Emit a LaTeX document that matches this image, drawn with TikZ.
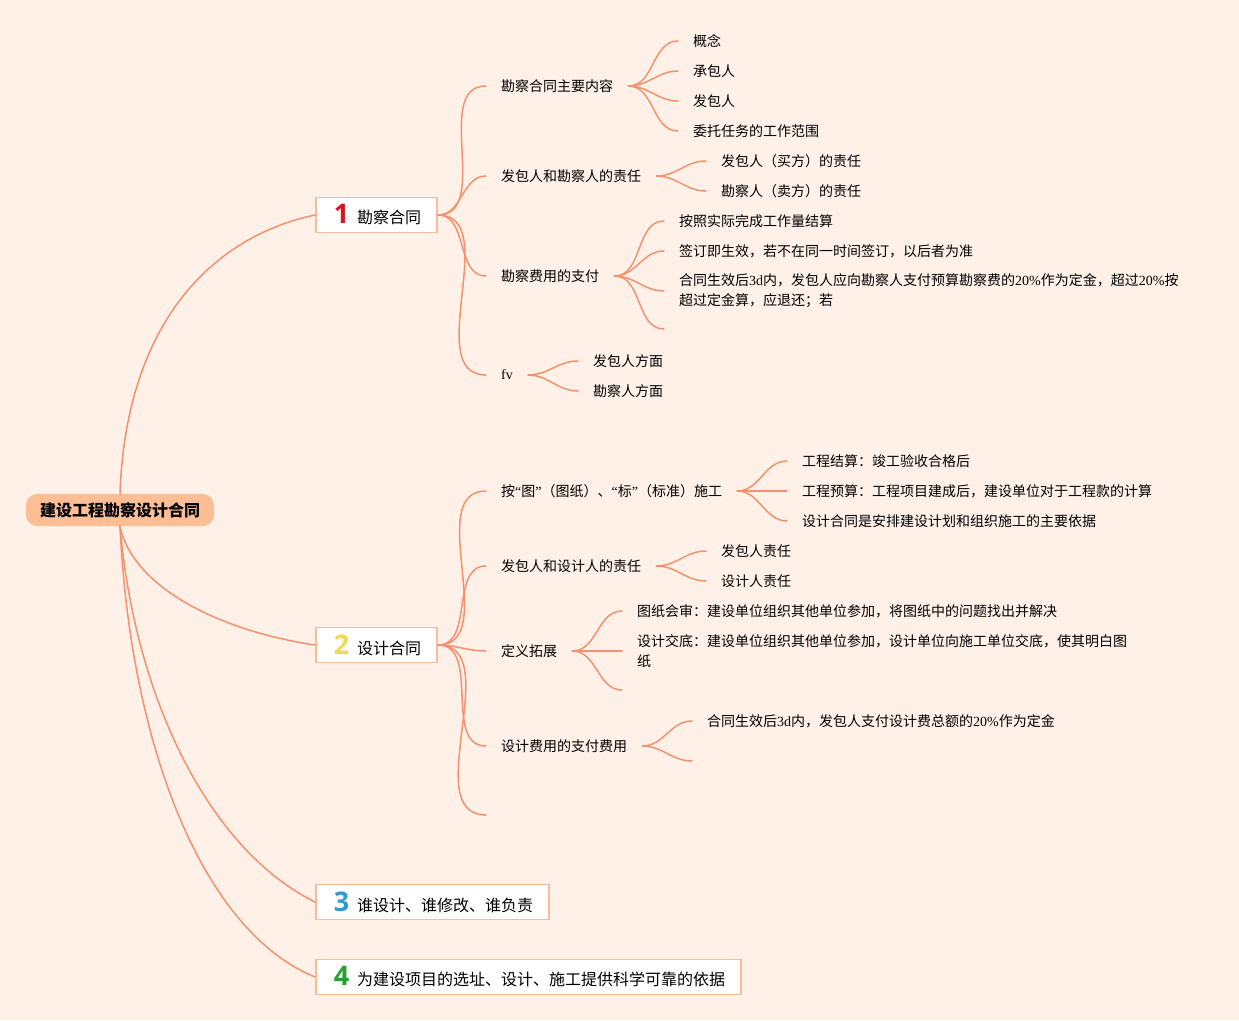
\documentclass[tikz,border=0pt]{standalone}
\usepackage{fontspec}
\setmainfont{Liberation Serif}
\newfontfamily\cjk{Noto Sans CJK SC}
\newfontfamily\numfont{Open Sans}
\usepackage{tikz}
\definecolor{bgc}{HTML}{FFF1E8}
\definecolor{linec}{HTML}{F5916E}
\definecolor{rootc}{HTML}{FDBE96}
\definecolor{boxc}{HTML}{F7BC9C}
\definecolor{numA}{HTML}{D8141E}
\definecolor{numB}{HTML}{F2D94E}
\definecolor{numC}{HTML}{2B9BD9}
\definecolor{numD}{HTML}{2A9F30}
\newcommand{\NUM}[2]{\hspace*{18pt}\textcolor{#1}{\numfont\bfseries\fontsize{27}{27}\selectfont #2}\hspace{8pt}}
\newcommand{\LAT}[1]{{\rmfamily #1}}

\begin{document}
\begin{tikzpicture}[x=1pt, y=-1pt, line cap=round,
  rootbox/.style={fill=rootc, rounded corners=11pt, minimum width=188pt, minimum height=32pt,
    inner xsep=0pt, font=\cjk\bfseries\fontsize{16}{18}\selectfont},
  branch/.style={anchor=west, draw=boxc, line width=1.6pt, fill=white, minimum height=35pt,
    inner xsep=0pt, font=\cjk\fontsize{16}{18}\selectfont},
  sub/.style={anchor=west, inner xsep=15pt, inner ysep=2pt, font=\cjk\fontsize{14}{20}\selectfont},
  leaf/.style={sub, align=left},
  link/.style={draw=linec, line width=1.5pt},
  fan/.style={out=0, in=180}]

  \small

  %% background and page size
  \fill[bgc] (0,0) rectangle (1239,1020);
  \useasboundingbox (0,0) rectangle (1239,1020);

  %% root and main branches
  \node[rootbox] (root) at (120,510) {建设工程勘察设计合同};
  \node[branch] (b1) at (315,215) {\NUM{numA}{1}勘察合同\hspace*{16pt}};
  \node[branch] (b2) at (315,645) {\NUM{numB}{2}设计合同\hspace*{16pt}};
  \node[branch] (b3) at (315,902) {\NUM{numC}{3}谁设计、谁修改、谁负责\hspace*{16pt}};
  \node[branch] (b4) at (315,977) {\NUM{numD}{4}为建设项目的选址、设计、施工提供科学可靠的依据\hspace*{16pt}};

  \draw[link] (root.north) .. controls (126,320) and (215,236) .. (b1.west);
  \draw[link] (root.south) .. controls (132,585) and (215,630) .. (b2.west);
  \draw[link] (root.south) .. controls (135,700) and (210,850) .. (b3.west);
  \draw[link] (root.south) .. controls (130,740) and (200,930) .. (b4.west);

  %% branch 1
  \node[sub] (s11) at (486,86) {勘察合同主要内容};
  \node[sub] (s12) at (486,176) {发包人和勘察人的责任};
  \node[sub] (s13) at (486,276) {勘察费用的支付};
  \node[sub] (s14) at (486,375) {\LAT{fv}};
  \draw[link] (b1.east) to[fan] (s11.west);
  \draw[link] (b1.east) to[fan] (s12.west);
  \draw[link] (b1.east) to[fan] (s13.west);
  \draw[link] (b1.east) to[fan] (s14.west);

  \node[leaf] (l111) at (678,41) {概念};
  \node[leaf] (l112) at (678,71) {承包人};
  \node[leaf] (l113) at (678,101) {发包人};
  \node[leaf] (l114) at (678,131) {委托任务的工作范围};
  \draw[link] (s11.east) to[fan] (l111.west);
  \draw[link] (s11.east) to[fan] (l112.west);
  \draw[link] (s11.east) to[fan] (l113.west);
  \draw[link] (s11.east) to[fan] (l114.west);

  \node[leaf] (l121) at (706,161) {发包人（买方）的责任};
  \node[leaf] (l122) at (706,191) {勘察人（卖方）的责任};
  \draw[link] (s12.east) to[fan] (l121.west);
  \draw[link] (s12.east) to[fan] (l122.west);

  \node[leaf] (l131) at (664,221) {按照实际完成工作量结算};
  \node[leaf] (l132) at (664,251) {签订即生效，若不在同一时间签订，以后者为准};
  \node[leaf] (l133) at (664,291) {合同生效后\LAT{3d}内，发包人应向勘察人支付预算勘察费的\LAT{20\%}作为定金，超过\LAT{20\%}按\\超过定金算，应退还；若};
  \coordinate (l134) at (664,329);
  \draw[link] (s13.east) to[fan] (l131.west);
  \draw[link] (s13.east) to[fan] (l132.west);
  \draw[link] (s13.east) to[fan] (l133.west);
  \draw[link] (s13.east) to[fan] (l134);

  \node[leaf] (l141) at (578,361) {发包人方面};
  \node[leaf] (l142) at (578,391) {勘察人方面};
  \draw[link] (s14.east) to[fan] (l141.west);
  \draw[link] (s14.east) to[fan] (l142.west);

  %% branch 2
  \node[sub] (s21) at (486,491) {按\LAT{“}图\LAT{”}（图纸）、\LAT{“}标\LAT{”}（标准）施工};
  \node[sub] (s22) at (486,566) {发包人和设计人的责任};
  \node[sub] (s23) at (486,651) {定义拓展};
  \node[sub] (s24) at (486,746) {设计费用的支付费用};
  \coordinate (s25) at (486,815);
  \draw[link] (b2.east) to[fan] (s21.west);
  \draw[link] (b2.east) to[fan] (s22.west);
  \draw[link] (b2.east) to[fan] (s23.west);
  \draw[link] (b2.east) to[fan] (s24.west);
  \draw[link] (b2.east) to[fan] (s25);

  \node[leaf] (l211) at (787,461) {工程结算：竣工验收合格后};
  \node[leaf] (l212) at (787,491) {工程预算：工程项目建成后，建设单位对于工程款的计算};
  \node[leaf] (l213) at (787,521) {设计合同是安排建设计划和组织施工的主要依据};
  \draw[link] (s21.east) to[fan] (l211.west);
  \draw[link] (s21.east) to[fan] (l212.west);
  \draw[link] (s21.east) to[fan] (l213.west);

  \node[leaf] (l221) at (706,551) {发包人责任};
  \node[leaf] (l222) at (706,581) {设计人责任};
  \draw[link] (s22.east) to[fan] (l221.west);
  \draw[link] (s22.east) to[fan] (l222.west);

  \node[leaf] (l231) at (622,611) {图纸会审：建设单位组织其他单位参加，将图纸中的问题找出并解决};
  \node[leaf] (l232) at (622,651) {设计交底：建设单位组织其他单位参加，设计单位向施工单位交底，使其明白图\\纸};
  \coordinate (l233) at (622,690);
  \draw[link] (s23.east) to[fan] (l231.west);
  \draw[link] (s23.east) to[fan] (l232.west);
  \draw[link] (s23.east) to[fan] (l233);

  \node[leaf] (l241) at (692,721) {合同生效后\LAT{3d}内，发包人支付设计费总额的\LAT{20\%}作为定金};
  \coordinate (l242) at (692,761);
  \draw[link] (s24.east) to[fan] (l241.west);
  \draw[link] (s24.east) to[fan] (l242);

\end{tikzpicture}
\end{document}
